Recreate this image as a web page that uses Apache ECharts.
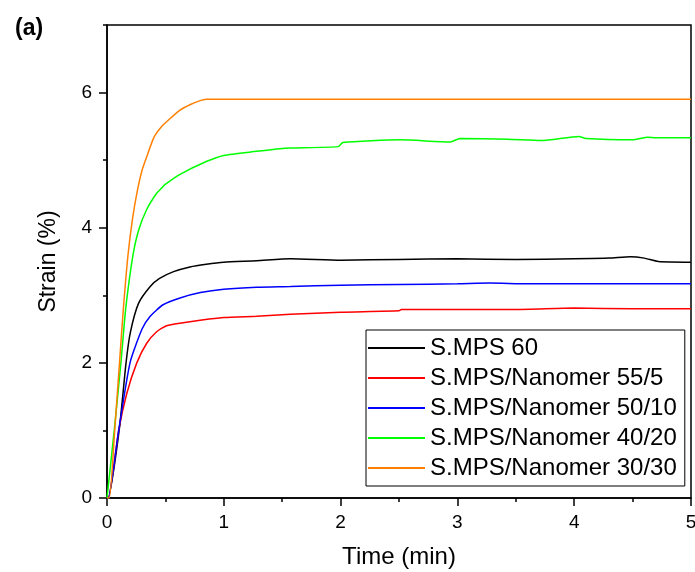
<!DOCTYPE html>
<html>
<head>
<meta charset="utf-8">
<script src="https://cdn.jsdelivr.net/npm/echarts@6/dist/echarts.min.js"></script>
<style>
html, body { margin: 0; padding: 0; background: #fff; }
#main { width: 695px; height: 572px; }
</style>
</head>
<body>
<div id="main"></div>
<script>
// strain (%) vs time (min)
var tBlack = [0, 0.01, 0.104, 0.163, 0.2, 0.27, 0.37, 0.45, 0.57, 0.71, 0.85, 1.0, 1.28, 1.57, 2.0, 2.5, 3.0, 3.5, 4.0, 4.3, 4.48, 4.6, 4.72, 5.0];
var vBlack = [0, 0, 1.0, 2.0, 2.45, 2.88, 3.13, 3.25, 3.35, 3.42, 3.46, 3.49, 3.51, 3.54, 3.52, 3.53, 3.54, 3.53, 3.54, 3.55, 3.57, 3.55, 3.50, 3.49];

var tRed = [0, 0.01, 0.1, 0.17, 0.255, 0.34, 0.425, 0.51, 0.71, 1.0, 1.28, 1.57, 2.0, 2.5, 2.52, 3.0, 3.5, 4.0, 4.5, 5.0];
var vRed = [0, 0, 1.0, 1.55, 2.0, 2.29, 2.46, 2.55, 2.61, 2.67, 2.69, 2.72, 2.75, 2.77, 2.79, 2.79, 2.79, 2.81, 2.80, 2.80];

var tBlue = [0, 0.01, 0.1, 0.197, 0.3, 0.37, 0.48, 0.625, 0.8, 1.0, 1.28, 1.57, 2.0, 2.5, 3.0, 3.28, 3.6, 4.0, 5.0];
var vBlue = [0, 0, 1.0, 2.0, 2.5, 2.69, 2.86, 2.96, 3.04, 3.09, 3.12, 3.13, 3.15, 3.16, 3.17, 3.18, 3.17, 3.17, 3.17];

var tGreen = [0, 0.062, 0.119, 0.16, 0.22, 0.27, 0.34, 0.425, 0.47, 0.49, 0.625, 0.85, 1.0, 1.28, 1.48, 1.57, 1.98, 2.02, 2.51, 2.94, 3.02, 3.43, 3.72, 4.04, 4.1, 4.5, 4.63, 4.7, 5.0];
var vGreen = [0, 1.0, 2.0, 2.8, 3.57, 3.96, 4.27, 4.51, 4.59, 4.63, 4.79, 4.98, 5.07, 5.13, 5.17, 5.18, 5.2, 5.26, 5.30, 5.27, 5.32, 5.31, 5.29, 5.35, 5.32, 5.30, 5.34, 5.33, 5.33];

var tOrange = [0, 0.02, 0.066, 0.107, 0.14, 0.18, 0.22, 0.26, 0.3, 0.34, 0.4, 0.47, 0.55, 0.625, 0.71, 0.78, 0.85, 0.9, 5.0];
var vOrange = [0, 0, 1.0, 2.0, 2.8, 3.6, 4.15, 4.55, 4.85, 5.05, 5.33, 5.5, 5.63, 5.74, 5.82, 5.87, 5.9, 5.9, 5.9];

var names = ['S.MPS 60', 'S.MPS/Nanomer 55/5', 'S.MPS/Nanomer 50/10', 'S.MPS/Nanomer 40/20', 'S.MPS/Nanomer 30/30'];
var colors = ['#000000', '#ff0000', '#0000ff', '#00ff00', '#ff8000'];
var yMajor = [0, 2, 4, 6];
var yMinor = [1, 3, 5, 7];

function pairs(t, v) {
	var out = [];
	for (var i = 0; i < t.length; i++) out.push([t[i], v[i]]);
	return out;
}
var allData = [pairs(tBlack, vBlack), pairs(tRed, vRed), pairs(tBlue, vBlue), pairs(tGreen, vGreen), pairs(tOrange, vOrange)];

var font = 'Liberation Sans, Arial, sans-serif';
var chart = echarts.init(document.getElementById('main'));

var series = [];
for (var i = 0; i < names.length; i++) {
	series.push({
		name: names[i],
		type: 'line',
		data: allData[i],
		symbol: 'none',
		smooth: 0.2,
		lineStyle: { color: colors[i], width: 1.5 },
		itemStyle: { color: colors[i] },
		z: 3 + i
	});
}

var option = {
	animation: false,
	backgroundColor: '#fff',
	graphic: [{
		type: 'text', left: 15, top: 17,
		style: { text: '(a)', font: 'bold 23px ' + font, fill: '#000' }
	}],
	grid: {
		left: 107, right: 4, top: 25, bottom: 74,
		outerBoundsMode: 'none',
		show: true, borderColor: '#000', borderWidth: 1.5
	},
	legend: {
		orient: 'vertical',
		left: 366, top: 330,
		padding: [6, 8, 6, 2],
		icon: 'path://M0,0 L57,0 L57,2 L0,2 Z',
		itemWidth: 57, itemHeight: 2, itemGap: 6,
		borderColor: '#000', borderWidth: 1,
		backgroundColor: '#fff',
		textStyle: { fontFamily: font, fontSize: 24, color: '#000' },
		data: names
	},
	xAxis: {
		type: 'value', min: 0, max: 5, interval: 1,
		name: 'Time (min)', nameLocation: 'middle', nameGap: 47,
		nameTextStyle: { fontFamily: font, fontSize: 24, color: '#000' },
		axisLine: { lineStyle: { color: '#000', width: 1.5 } },
		axisTick: { inside: false, length: 8, lineStyle: { color: '#000', width: 1.5 } },
		minorTick: { show: true, splitNumber: 2, length: 4, lineStyle: { color: '#000', width: 1.5 } },
		axisLabel: { margin: 15, fontFamily: font, fontSize: 19, color: '#000' },
		splitLine: { show: false }
	},
	yAxis: [{
		type: 'value', min: 0, max: 7, interval: 1,
		name: 'Strain (%)', nameLocation: 'middle', nameGap: 47,
		nameTextStyle: { fontFamily: font, fontSize: 23, color: '#000' },
		axisLine: { lineStyle: { color: '#000', width: 1.5 } },
		axisTick: { length: 8, customValues: yMajor, lineStyle: { color: '#000', width: 1.5 } },
		axisLabel: { margin: 15, customValues: yMajor, fontFamily: font, fontSize: 19, color: '#000' },
		splitLine: { show: false }
	}, {
		type: 'value', min: 0, max: 7, interval: 1, position: 'left',
		axisLine: { show: false },
		axisTick: { length: 4, customValues: yMinor, lineStyle: { color: '#000', width: 1.5 } },
		axisLabel: { show: false },
		splitLine: { show: false }
	}],
	series: series
};
chart.setOption(option);
</script>
</body>
</html>
